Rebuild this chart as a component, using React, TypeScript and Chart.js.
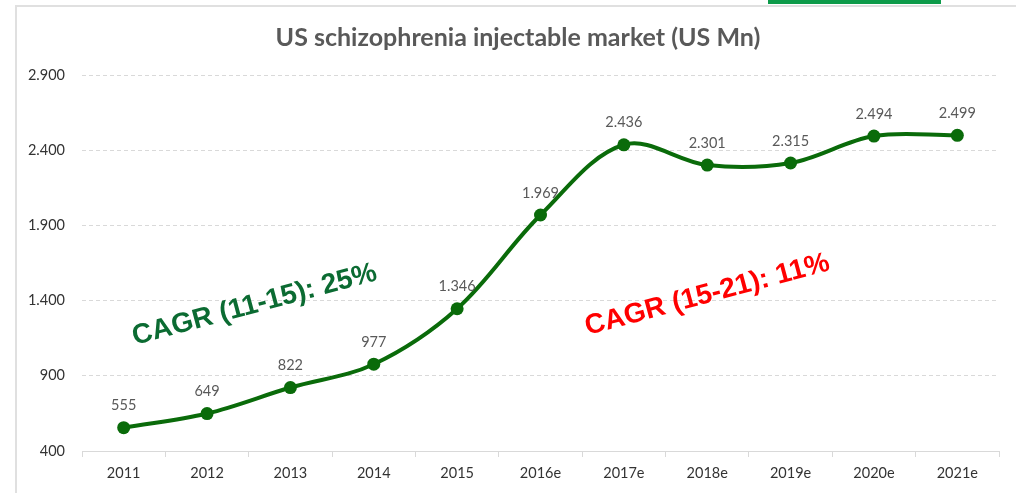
import React, { useEffect, useRef } from 'react';
import { Chart, registerables } from 'chart.js';

Chart.register(...registerables);

const categories = ['2011', '2012', '2013', '2014', '2015', '2016e', '2017e', '2018e', '2019e', '2020e', '2021e'];
const marketValues = [555, 649, 822, 977, 1346, 1969, 2436, 2301, 2315, 2494, 2499];
const yTickValues = [400, 900, 1400, 1900, 2400, 2900];
const chartTitle = 'US schizophrenia injectable market (US Mn)';
const cagrLabels = ['CAGR (11-15): 25%', 'CAGR (15-21): 11%'];
const cagrAnchorX = [1.57, 7.0];
const cagrAnchorY = [1371, 1437];
const cagrColors = ['#0b6b32', '#ff0000'];

const fmt = (n: number) => String(n).replace(/\B(?=(\d{3})+(?!\d))/g, '.');

const FONT = 'Lato, "Noto Sans", sans-serif';

const labelsPlugin = {
  id: 'customLabels',
  afterDraw(chart: any) {
    const ctx = chart.ctx;
    ctx.save();
    ctx.font = `bold 25px ${FONT}`;
    ctx.fillStyle = '#595959';
    ctx.textAlign = 'center';
    ctx.textBaseline = 'middle';
    ctx.fillText(chartTitle, 518, 38);
    ctx.restore();
  },
  afterDatasetsDraw(chart: any) {
    const ctx = chart.ctx;
    const meta = chart.getDatasetMeta(0);
    ctx.save();
    ctx.font = `14.5px ${FONT}`;
    ctx.fillStyle = '#595959';
    ctx.textAlign = 'center';
    ctx.textBaseline = 'middle';
    meta.data.forEach((pt: any, i: number) => {
      ctx.fillText(fmt(marketValues[i]), pt.x, pt.y - 22);
    });
    const xs = chart.scales.x;
    const ys = chart.scales.y;
    cagrLabels.forEach((t, i) => {
      const x = xs.getPixelForValue(cagrAnchorX[i]);
      const y = ys.getPixelForValue(cagrAnchorY[i]);
      ctx.save();
      ctx.translate(x, y);
      ctx.rotate((-15 * Math.PI) / 180);
      ctx.font = 'bold 28px "Liberation Sans", Arial, sans-serif';
      ctx.fillStyle = cagrColors[i];
      ctx.textAlign = 'center';
      ctx.textBaseline = 'middle';
      ctx.fillText(t, 0, 0);
      ctx.restore();
    });
    ctx.restore();
  },
};

export default function App() {
  const ref = useRef<HTMLCanvasElement>(null);
  useEffect(() => {
    if (!ref.current) return;
    const chart = new Chart(ref.current, {
      type: 'line',
      data: {
        labels: categories,
        datasets: [
          {
            data: marketValues,
            borderColor: '#0a6b0a',
            backgroundColor: '#0a6b0a',
            borderWidth: 4,
            pointRadius: 6.5,
            pointBackgroundColor: '#0a6b0a',
            pointBorderColor: '#0a6b0a',
            pointBorderWidth: 0,
            tension: 0.35,
            fill: false,
          },
        ],
      },
      options: {
        animation: false,
        responsive: false,
        devicePixelRatio: 1,
        layout: { padding: { left: 0, right: 17, top: 75, bottom: 0 } },
        plugins: {
          legend: { display: false },
          tooltip: { enabled: false },
          title: { display: false },
        },
        scales: {
          x: {
            offset: true,
            afterFit: (s: any) => {
              s.height = 42;
            },
            grid: {
              offset: true,
              drawOnChartArea: false,
              drawTicks: true,
              tickLength: 6,
              color: '#d9d9d9',
            },
            border: { display: true, color: '#d9d9d9', width: 1 },
            ticks: {
              color: '#333333',
              font: { family: FONT, size: 14.5 },
              padding: 8,
              maxRotation: 0,
              autoSkip: false,
            },
          },
          y: {
            min: 400,
            max: 2900,
            afterFit: (s: any) => {
              s.width = 82;
            },
            afterBuildTicks: (s: any) => {
              s.ticks = yTickValues.map((v) => ({ value: v }));
            },
            grid: {
              drawTicks: false,
              color: '#d9d9d9',
              lineWidth: 1,
            },
            border: { display: false, dash: [4, 3] },
            ticks: {
              color: '#333333',
              font: { family: FONT, size: 14.5 },
              padding: 17,
              callback: (v: any) => fmt(Number(v)),
            },
          },
        },
      },
      plugins: [labelsPlugin],
    });
    return () => chart.destroy();
  }, []);

  return (
    <div style={{ position: 'absolute', left: 0, top: 0, width: 1016, height: 493, background: '#fff', overflow: 'hidden' }}>
      <div style={{ position: 'absolute', left: 15, top: 5, width: 2, height: 488, background: '#e0e0e0' }} />
      <div style={{ position: 'absolute', left: 15, top: 5, width: 1001, height: 2, background: '#e0e0e0' }} />
      <div style={{ position: 'absolute', left: 768, top: 0, width: 173, height: 4, background: '#0d9b4a' }} />
      <canvas ref={ref} width={1016} height={493} style={{ position: 'absolute', left: 0, top: 0 }} />
    </div>
  );
}
